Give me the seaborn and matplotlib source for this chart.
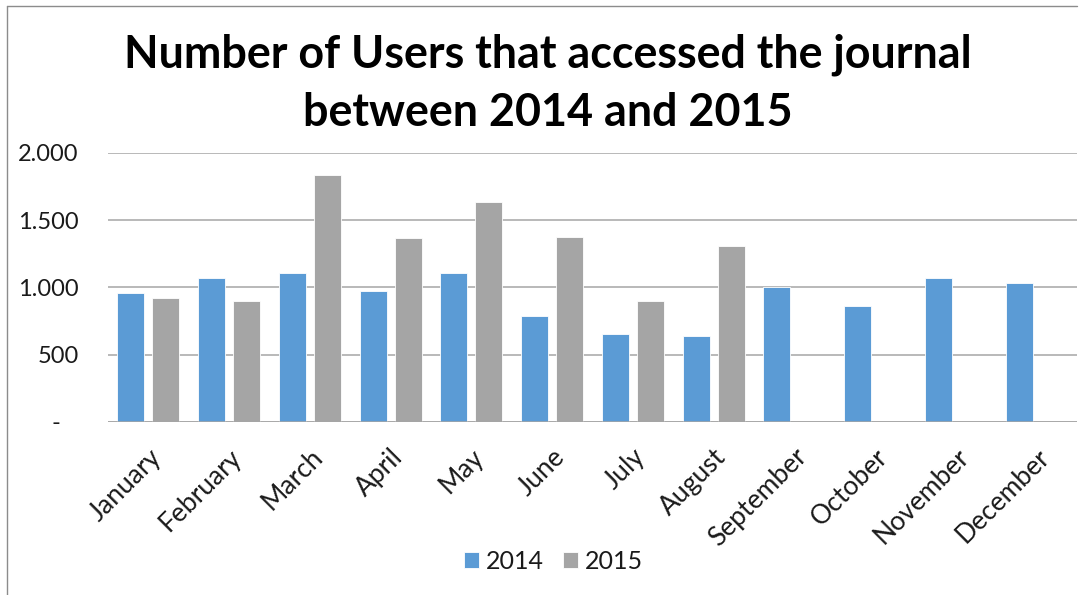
import matplotlib
matplotlib.use('Agg')
import matplotlib.pyplot as plt
import matplotlib.transforms as mtransforms
from matplotlib.lines import Line2D
from matplotlib.ticker import FixedLocator
import seaborn as sns
import pandas as pd
import numpy as np

# Данные
months = ['January', 'February', 'March', 'April', 'May', 'June', 'July',
          'August', 'September', 'October', 'November', 'December']
users_2014 = [955, 1072, 1109, 975, 1109, 785, 651, 641, 1002, 861, 1072, 1032]
users_2015 = [918, 898, 1834, 1364, 1634, 1376, 898, 1309, np.nan, np.nan, np.nan, np.nan]
years = ['2014', '2015']
y_ticks = [0, 500, 1000, 1500, 2000]
y_tick_labels = ['-   ', '500', '1.000', '1.500', '2.000']
title = 'Number of Users that accessed the journal\nbetween 2014 and 2015'

colors = ['#5B9BD5', '#A5A5A5']
grid_color = '#A6A6A6'


def build_frame():
    df = pd.DataFrame({
        'month': months * 2,
        'users': users_2014 + users_2015,
        'year': [years[0]] * len(months) + [years[1]] * len(months),
    })
    return df


def plot_users(df):
    sns.set_style('white')
    plt.rcParams['font.family'] = ['Lato', 'DejaVu Sans']

    fig = plt.figure(figsize=(10.81, 5.95), dpi=100)
    ax = fig.add_axes([0.0999, 0.2908, 0.8964, 0.4526])

    sns.barplot(data=df, x='month', y='users', hue='year', order=months,
                hue_order=years, palette=colors, saturation=1, width=0.87,
                gap=0.23, errorbar=None, edgecolor='white', linewidth=0.6,
                ax=ax, zorder=3)

    ax.set_ylim(0, 2000)
    ax.yaxis.set_major_locator(FixedLocator(y_ticks))
    ax.set_yticklabels(y_tick_labels)
    ax.grid(axis='y', color=grid_color, linewidth=1.1, zorder=0)
    ax.set_axisbelow(True)
    for side in ['top', 'right', 'left', 'bottom']:
        ax.spines[side].set_visible(False)
    ax.axhline(0, color=grid_color, linewidth=1.1, zorder=4)
    ax.set_xlabel('')
    ax.set_ylabel('')

    ax.tick_params(axis='y', length=0, pad=21, labelsize=17, colors='#1a1a1a')
    ax.tick_params(axis='x', length=0, pad=16, labelsize=19, colors='#1a1a1a')
    plt.setp(ax.get_xticklabels(), rotation=45, ha='right',
             rotation_mode='anchor')
    shift = mtransforms.ScaledTranslation(0, 0, fig.dpi_scale_trans)
    for lbl in ax.get_xticklabels():
        lbl.set_transform(lbl.get_transform() + shift)

    # Заголовок
    fig.text(0.507, 0.943, title, ha='center', va='top', fontsize=32.3,
             fontweight='bold', linespacing=1.45, color='black')

    # Легенда внизу
    ax.legend_.remove()
    handles, labels = ax.get_legend_handles_labels()
    fig.legend(handles, labels, loc='center', bbox_to_anchor=(0.512, 0.057),
               ncol=2, frameon=False, fontsize=18, handlelength=0.6,
               handleheight=0.6, handletextpad=0.25, columnspacing=0.8,
               labelcolor='#1a1a1a')

    # Рамка области диаграммы
    fig.add_artist(Line2D([7.5 / 1081, 7.5 / 1081], [0, 1 - 6 / 595],
                          transform=fig.transFigure, color='#8c8c8c', lw=1))
    fig.add_artist(Line2D([7.5 / 1081, 1077 / 1081], [1 - 6 / 595, 1 - 6 / 595],
                          transform=fig.transFigure, color='#8c8c8c', lw=1))

    fig.savefig('out.png', dpi=100)
    plt.close(fig)


def main():
    df = build_frame()
    plot_users(df)


if __name__ == '__main__':
    main()
